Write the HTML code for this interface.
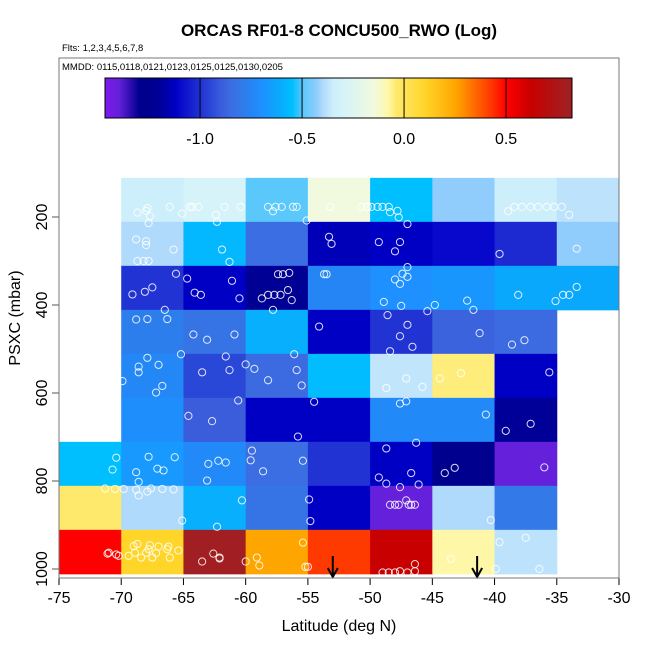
<!DOCTYPE html>
<html><head><meta charset="utf-8"><style>
body{margin:0;background:#fff;}
svg{display:block;font-family:"Liberation Sans",sans-serif;}
</style></head><body>
<svg id="chart" width="650" height="650" viewBox="0 0 650 650" xmlns="http://www.w3.org/2000/svg">
<rect width="650" height="650" fill="#fff"/>
<text x="339" y="36" text-anchor="middle" font-size="17" font-weight="bold">ORCAS RF01-8 CONCU500_RWO (Log)</text>
<text x="62" y="51" font-size="9.5">Flts: 1,2,3,4,5,6,7,8</text>
<text x="62" y="70" font-size="9.5">MMDD: 0115,0118,0121,0123,0125,0125,0130,0205</text>
<g id="cells"></g>
<g id="points"></g>
<g id="cbar"></g>
<g id="axes"></g>
<rect x="59" y="58" width="560" height="520" fill="none" stroke="#777" stroke-width="1"/>
<text x="339" y="631" text-anchor="middle" font-size="16">Latitude (deg N)</text>
<text transform="translate(20,318) rotate(-90)" text-anchor="middle" font-size="16">PSXC (mbar)</text>
</svg>
<script>
const lonEdges = [-75,-70,-65,-60,-55,-50,-45,-40,-35,-30];
const pEdges = [111,211,311,411,511,611,711,811,911,1011];
const row0 = [null,-0.35,-0.3,-0.5,-0.15,-0.55,-0.43,-0.35,-0.38];
const row1 = [null,-0.4,-0.57,-0.85,-1.15,-1.12,-1.1,-1.02,-0.43];
const row2 = [null,-1.0,-1.12,-1.22,-0.75,-0.7,-0.68,-0.62,-0.62];
const row3 = [null,-0.78,-0.82,-0.6,-1.12,-1.0,-0.88,-0.86,null];
const row4 = [null,-0.74,-0.95,-0.86,-0.56,-0.37,-0.05,-1.12,null];
const row5 = [null,-0.71,-0.9,-1.12,-1.12,-0.73,-0.73,-1.2,null];
const row6 = [-0.55,-0.67,-0.73,-0.85,-1.0,-1.12,-1.25,-1.4,null];
const row7 = [-0.04,-0.4,-0.6,-0.82,-1.12,-1.4,-0.4,-0.8,null];
const row8 = [0.5,0.1,0.8,0.25,0.42,0.62,-0.08,-0.38,null];
const grid = [row0,row1,row2,row3,row4,row5,row6,row7,row8];
const ptLat = [-68.7,-68.0,-67.9,-67.7,-67.8,-66.1,-65.1,-64.5,-64.3,-63.8,-62.4,-62.3,-61.7,-60.4,-58.2,-57.8,-57.6,-57.1,-56.2,-55.9,-55.1,-53.2,-50.7,-50.2,-49.9,-49.4,-49.0,-48.5,-48.4,-47.8,-47.7,-47.0,-38.9,-38.4,-37.8,-37.1,-36.5,-35.8,-35.2,-34.6,-34.0,
-68.8,-68.0,-68.0,-65.8,-68.7,-68.2,-67.8,-61.9,-61.3,-53.3,-53.1,-49.3,-47.6,-48.0,-39.6,-33.4,
-47.0,-65.6,-64.7,-61.1,-67.5,-68.1,-69.1,-64.1,-63.6,-60.5,-57.4,-57.0,-56.5,-56.6,-56.3,-58.7,-58.2,-57.7,-57.2,-57.8,-66.5,-53.7,-53.5,-47.4,-47.0,-48.0,-47.6,-48.9,-47.5,-44.8,-45.4,-42.2,-41.7,-38.1,-35.1,-34.5,-34.0,-33.4,
-68.8,-67.9,-66.3,-64.2,-63.1,-60.9,-54.1,-48.6,-47.0,-47.6,-46.6,-48.4,-41.2,-38.6,-37.6,
-69.9,-67.9,-68.6,-68.6,-67.0,-65.2,-67.2,-66.7,-61.6,-63.5,-61.3,-60.0,-59.3,-58.2,-56.1,-55.9,-55.5,-48.7,-47.1,-45.8,-44.4,-42.7,-35.6,
-60.6,-54.5,-47.6,-47.1,
-64.6,-62.7,-55.8,-40.7,-37.1,-39.1,-46.3,-48.7,
-70.4,-70.7,-67.8,-68.8,-68.6,-67.1,-66.6,-65.7,-71.3,-70.5,-69.8,-68.8,-68.6,-67.9,-67.6,-66.7,-65.8,-63.0,-62.2,-61.6,-63.1,-59.5,-59.6,-58.6,-55.4,-49.3,-48.7,-47.6,-46.7,-46.1,-44.0,-43.2,-36.0,
-60.3,-65.1,-62.3,-54.9,-54.8,-47.1,-48.4,-48.0,-47.7,-46.9,-46.7,-46.4,-40.3,
-71.1,-71.0,-70.4,-70.2,-69.4,-69.0,-68.7,-68.9,-68.4,-68.0,-67.8,-67.7,-67.5,-67.2,-67.0,-66.3,-66.2,-66.1,-65.4,-63.5,-62.6,-62.1,-62.1,-60.0,-59.1,-58.9,-55.4,-55.2,-55.0,-49.0,-48.5,-48.0,-47.6,-47.0,-46.4,-46.4,-43.5,-39.6,-37.5,-39.9,-36.4];
const ptP = [190,186,180,198,214,177,192,177,177,177,195,211,177,177,177,187,177,177,177,177,208,177,177,177,177,177,177,177,189,186,201,216,187,177,177,177,177,177,177,177,195,
251,255,264,274,300,300,300,274,302,245,261,257,257,278,284,272,
314,329,340,345,360,370,376,372,377,385,330,330,327,366,389,385,377,377,377,411,411,330,330,329,336,342,352,393,402,400,414,390,411,377,391,377,377,359,
433,432,432,467,479,467,449,423,445,471,495,505,464,490,480,
573,520,540,553,536,512,599,584,517,553,548,535,545,571,512,548,583,589,567,586,567,555,553,
617,620,624,619,
652,664,699,649,670,686,713,726,
747,774,745,780,802,772,776,746,817,818,818,820,833,824,817,818,819,761,754,758,799,731,753,778,754,792,806,814,782,808,782,770,769,
844,890,904,842,891,844,854,854,854,854,854,854,889,
965,963,967,970,970,948,943,963,974,963,955,946,974,964,949,955,949,974,958,983,965,974,976,983,974,992,940,995,995,1008,1008,1008,1005,1008,1005,989,977,939,929,1000,1000];
const arrowLat = [-53.0,-41.4];
const cbTicks = [-1.0,-0.5,0.0,0.5];
const cbTickLabels = ["-1.0","-0.5","0.0","0.5"];
const xTicks = [-75,-70,-65,-60,-55,-50,-45,-40,-35,-30];
const yTicks = [200,400,600,800,1000];
const cmapV = [-1.46,-1.4,-1.3,-1.25,-1.2,-1.15,-1.12,-1.1,-1.0,-0.95,-0.9,-0.85,-0.8,-0.75,-0.7,-0.62,-0.55,-0.5,-0.43,-0.4,-0.35,-0.3,-0.15,-0.08,-0.04,0.1,0.25,0.42,0.5,0.62,0.8,0.83];
const cmapC = ["#7a1ae8","#6420da","#000090","#00008e","#000098","#0000b8","#0000c4","#0808cc","#2233d3","#2a48d8","#3b5cdb","#3b6de3","#3379e8","#2585f4","#1e90ff","#0aa8fc","#00bfff","#5ac8fb","#90cdfc","#b0dafc","#cdeefb","#d5f3f8","#f1fadf","#fff7a8","#ffe96c","#ffd52a","#ffa500","#ff3a00","#ff0000","#c80000","#a11f22","#a01a1a"];

const NS="http://www.w3.org/2000/svg";
const X = lat => 59 + (lat + 75) * 560 / 45;
const Y = p => 217 + (p - 200) * 0.44;
const CB = v => 105 + (v + 1.466) * 204;
function hex(h){return [1,3,5].map(i=>parseInt(h.substr(i,2),16));}
function cmap(v){
  if(v<=cmapV[0]) return cmapC[0];
  for(let i=1;i<cmapV.length;i++){
    if(v<=cmapV[i]){
      const t=(v-cmapV[i-1])/(cmapV[i]-cmapV[i-1]);
      const a=hex(cmapC[i-1]),b=hex(cmapC[i]);
      return "rgb("+a.map((x,k)=>Math.round(x+(b[k]-x)*t)).join(",")+")";
    }
  }
  return cmapC[cmapC.length-1];
}
function mk(tag,attrs,parent){const e=document.createElementNS(NS,tag);for(const k in attrs)e.setAttribute(k,attrs[k]);parent.appendChild(e);return e;}

const gc=document.getElementById('cells');
grid.forEach((row,r)=>row.forEach((v,c)=>{
  if(v===null) return;
  const x0=X(lonEdges[c]),x1=X(lonEdges[c+1]),y0=Y(pEdges[r]),y1=r+1<pEdges.length?Y(pEdges[r+1]):Y(pEdges[r]+100);
  const el=mk('rect',{x:x0,y:y0,width:x1-x0+0.5,height:y1-y0+0.5,fill:cmap(v)},gc);
  
  
}));

const gp=document.getElementById('points');
ptLat.forEach((lat,i)=>{
  const el=mk('circle',{cx:X(lat),cy:Y(ptP[i]),r:3.6,fill:'none',stroke:'#fff','stroke-width':1,'stroke-opacity':0.85},gp);
  
  
});
arrowLat.forEach(lat=>{
  const x=X(lat);
  const g=mk('g',{},gp);
  
  
  mk('line',{x1:x,y1:556,x2:x,y2:576,stroke:'#000','stroke-width':2},g);
  mk('path',{d:`M${x-5},${568} L${x},${577} L${x+5},${568}`,fill:'none',stroke:'#000','stroke-width':2},g);
});

const gb=document.getElementById('cbar');
for(let px=105;px<572;px++){
  const v=-1.466+(px-105)/204;
  const el=mk('rect',{x:px,y:78,width:1.2,height:40,fill:cmap(v)},gb);
  
  
}
const cbf=mk('rect',{x:105,y:78,width:467,height:40,fill:'none',stroke:'#000','stroke-width':1},gb);


cbTicks.forEach((v,i)=>{
  const t=mk('line',{x1:CB(v),y1:78,x2:CB(v),y2:118,stroke:'#000','stroke-width':1},gb);
  
  
  const l=mk('text',{x:CB(v),y:144,'text-anchor':'middle','font-size':16},gb);
  l.textContent=cbTickLabels[i];
  
  
});

const ga=document.getElementById('axes');
mk('line',{x1:59,y1:578,x2:619,y2:578,stroke:'#000','stroke-width':1},ga);
xTicks.forEach(v=>{
  mk('line',{x1:X(v),y1:578,x2:X(v),y2:585,stroke:'#000'},ga);
  const l=mk('text',{x:X(v),y:603,'text-anchor':'middle','font-size':16},ga);
  l.textContent=v;
  
  
});
yTicks.forEach(v=>{
  mk('line',{x1:52,y1:Y(v),x2:59,y2:Y(v),stroke:'#555'},ga);
  const l=mk('text',{x:0,y:0,'text-anchor':'middle','font-size':16,transform:`translate(47,${Y(v)}) rotate(-90)`},ga);
  l.textContent=v;
  
  
});
</script>
</body></html>
